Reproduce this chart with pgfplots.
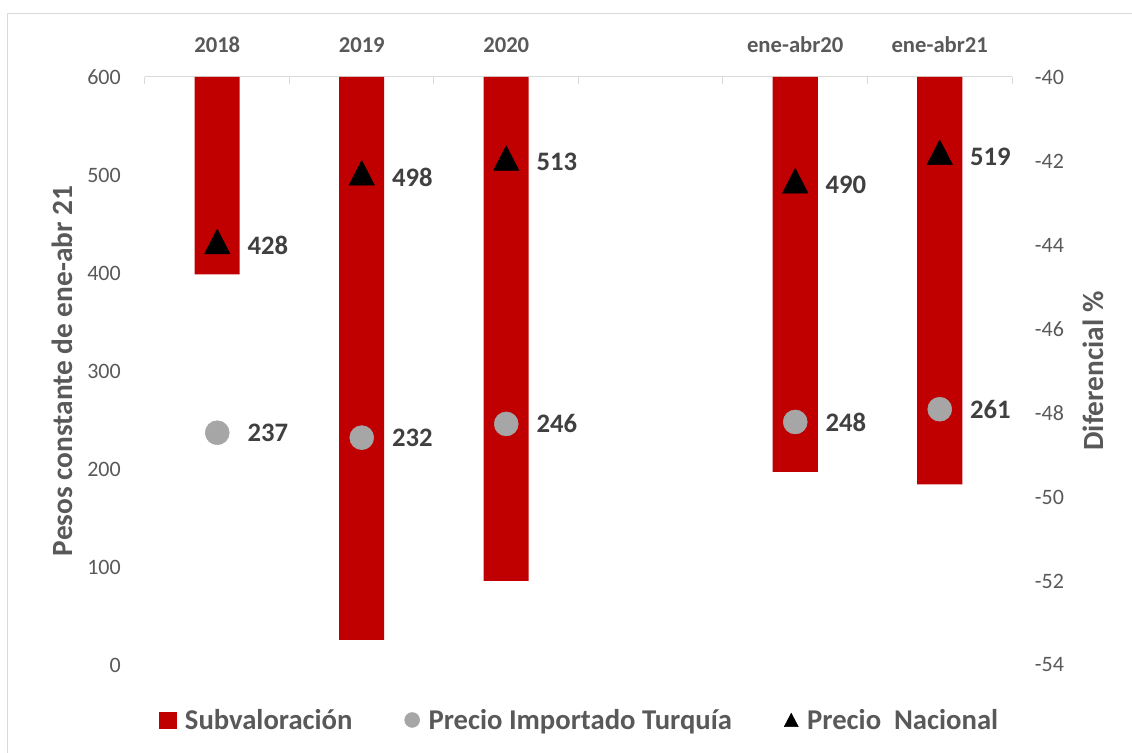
\documentclass[border=0pt]{standalone}
\usepackage{fontspec}
\setmainfont{Carlito}
\usepackage{pgfplots}
\pgfplotsset{compat=1.18}
\pgfplotsset{/pgf/number format/assume math mode=true}
\definecolor{barred}{HTML}{C00000}
\definecolor{ptgray}{HTML}{A6A6A6}
\definecolor{txt}{HTML}{595959}
\definecolor{lbl}{HTML}{404040}
\definecolor{axl}{HTML}{D9D9D9}
\begin{document}
\begin{tikzpicture}
\path[use as bounding box] (-108.75pt,-66pt) rectangle (740.25pt,498.75pt);
\draw[axl, line width=0.75pt] (-102.75pt,-66pt) -- (-102.75pt,488.25pt) -- (740.25pt,488.25pt);
% bars (right axis)
\begin{axis}[
  at={(0,0)}, anchor=south west, scale only axis,
  width=650.25pt, height=441pt,
  xmin=-0.5, xmax=5.5, ymin=-54, ymax=-40,
  axis x line*=top, axis y line*=right,
  x axis line style={axl, line width=0.75pt},
  y axis line style={draw=none},
  xtick={0,1,2,4,5},
  xticklabels={2018,2019,2020,ene-abr20,ene-abr21},
  major x tick style={draw=none},
  minor xtick={-0.5,0.5,1.5,2.5,3.5,4.5,5.5},
  minor x tick style={axl, line width=0.75pt},
  minor tick length=5.25pt,
  major tick length=0pt,
  xticklabel style={font=\fontsize{17}{20}\selectfont\bfseries, text=txt, inner sep=0pt, anchor=south},
  xticklabel shift=18pt,
  ytick={-54,-52,...,-40},
  major y tick style={draw=none},
  yticklabel style={font=\fontsize{16.5}{19}\selectfont, text=txt, inner sep=0pt, anchor=west},
  yticklabel shift=17pt,
  every axis y label/.style={at={(axis description cs:1.0934,0.5)}, rotate=90, anchor=center, font=\fontsize{22}{26}\selectfont\bfseries, text=txt},
  ylabel={Diferencial \%},
]
\addplot[ybar, bar width=33.75pt, fill=barred, draw=none] coordinates {(0,-44.7) (1,-53.4) (2,-52.0) (4,-49.4) (5,-49.7)};
\end{axis}
% markers (left axis)
\begin{axis}[
  at={(0,0)}, anchor=south west, scale only axis,
  width=650.25pt, height=441pt,
  xmin=-0.5, xmax=5.5, ymin=0, ymax=600,
  hide x axis, axis y line*=left,
  y axis line style={draw=none},
  major y tick style={draw=none},
  major tick length=0pt,
  ytick={0,100,...,600},
  yticklabel style={font=\fontsize{16.5}{19}\selectfont, text=txt, inner sep=0pt, anchor=east},
  yticklabel shift=18pt,
  every axis y label/.style={at={(axis description cs:-0.0957,0.5)}, rotate=90, anchor=center, font=\fontsize{22}{26}\selectfont\bfseries, text=txt},
  ylabel={Pesos constante de ene-abr 21},
  clip=false,
  legend columns=3,
  legend style={draw=none, fill=none, at={(0.5,-0.0935)}, anchor=center,
    font=\fontsize{21.5}{25}\selectfont\bfseries, text=txt,
    /tikz/every odd column/.append style={column sep=6.5pt},
    /tikz/every even column/.append style={column sep=39pt},
    nodes={inner sep=0pt}},
  nodes near coords style={font=\fontsize{20}{24}\selectfont\bfseries, text=lbl, anchor=west, inner sep=0pt, xshift=22.5pt},
]
\addlegendimage{legend image code/.code={\fill[barred] (0pt,-6pt) rectangle (12.75pt,6pt);}}
\addlegendentry{Subvaloración}
\addplot[only marks, mark=*, mark size=9pt, color=ptgray, nodes near coords,
  legend image code/.code={\fill[ptgray] (5.6pt,0pt) circle (5.6pt);}]
  coordinates {(0,237) (1,232) (2,246) (4,248) (5,261)};
\addlegendentry{Precio Importado Turquía}
\addplot[only marks, mark=triangle*, mark size=11pt, mark options={yscale=1.12}, color=black, nodes near coords,
  legend image code/.code={\fill[black] (0pt,-5pt) -- (10.5pt,-5pt) -- (5.25pt,5pt) -- cycle;}]
  coordinates {(0,428) (1,498) (2,513) (4,490) (5,519)};
\addlegendentry{Precio\ \ Nacional}
\end{axis}
\end{tikzpicture}
\end{document}
